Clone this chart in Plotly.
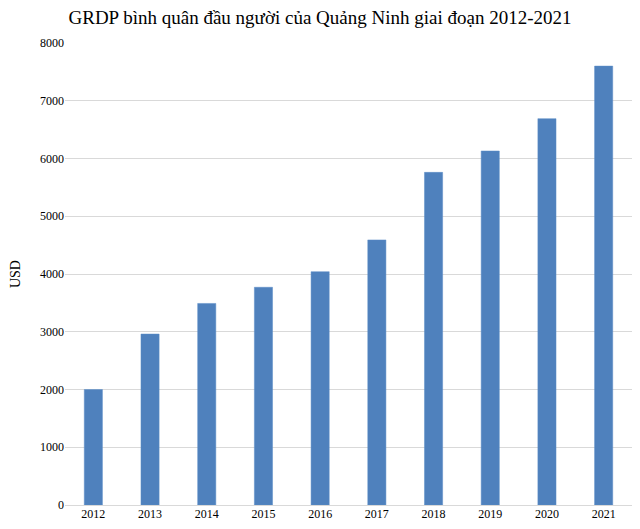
import plotly.graph_objects as go

years = ["2012", "2013", "2014", "2015", "2016", "2017", "2018", "2019", "2020", "2021"]
grdp_usd = [2000, 2960, 3490, 3770, 4040, 4590, 5760, 6130, 6690, 7600]
y_ticks = [0, 1000, 2000, 3000, 4000, 5000, 6000, 7000, 8000]

fig = go.Figure(go.Bar(
    x=years, y=grdp_usd,
    marker=dict(color="#4f81bd", line=dict(color="#5b8cc6", width=0.5)),
))

fig.update_layout(
    width=640, height=529,
    margin=dict(l=65, r=8, t=43, b=22),
    paper_bgcolor="white", plot_bgcolor="white",
    bargap=0.68,
    showlegend=False,
    font=dict(family="Liberation Serif", color="#000000"),
    title=dict(
        text="GRDP bình quân đầu người của Quảng Ninh giai đoạn 2012-2021",
        x=0.5, xanchor="center", y=0.967, yanchor="middle",
        font=dict(family="Liberation Serif", size=19, color="#000000"),
    ),
    xaxis=dict(
        type="category", showgrid=False, zeroline=False, showline=False,
        tickfont=dict(size=12, family="Liberation Serif"), ticks="",
    ),
    yaxis=dict(
        range=[0, 8000], tickvals=y_ticks, ticktext=[str(v) for v in y_ticks],
        showgrid=True, gridcolor="#d9d9d9", gridwidth=1,
        zeroline=True, zerolinecolor="#d9d9d9", zerolinewidth=1,
        showline=False, ticks="",
        tickfont=dict(size=12, family="Liberation Serif"),
        title=dict(text="USD", font=dict(size=14, family="Liberation Serif"), standoff=16),
    ),
)

fig.write_html(
    "out.html",
    config={"displayModeBar": False},
    post_script="document.body.style.margin='0';document.body.style.padding='0';",
)
